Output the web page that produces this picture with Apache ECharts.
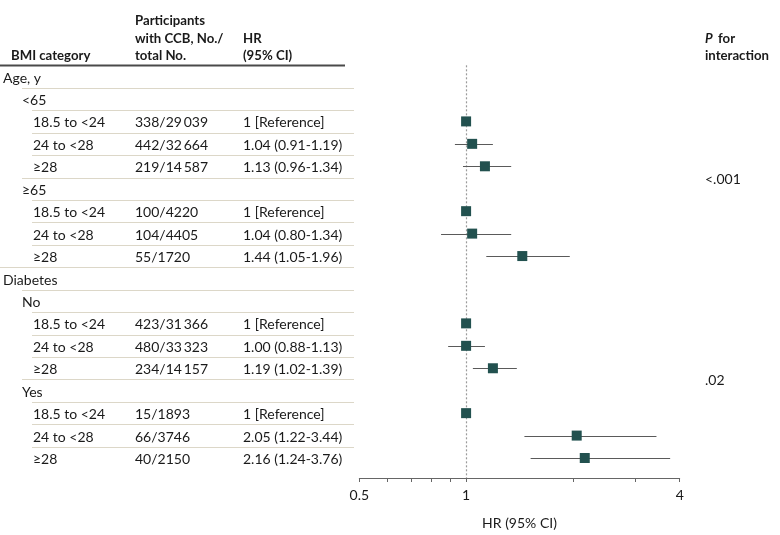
<!DOCTYPE html>
<html><head><meta charset="utf-8">
<script src="https://cdn.jsdelivr.net/npm/echarts@6/dist/echarts.min.js"></script>
<style>html,body{margin:0;padding:0;background:#fff}#c{width:780px;height:535px}</style>
</head><body><div id="c"></div>
<script>
// ---- data ----
const rowLabels = ['Age, y', '<65', '18.5 to <24', '24 to <28', '≥28', '≥65', '18.5 to <24', '24 to <28', '≥28',
  'Diabetes', 'No', '18.5 to <24', '24 to <28', '≥28', 'Yes', '18.5 to <24', '24 to <28', '≥28'];
const rowLevels = [0, 1, 2, 2, 2, 1, 2, 2, 2, 0, 1, 2, 2, 2, 1, 2, 2, 2];
const participants = ['', '', '338/29\u2009039', '442/32\u2009664', '219/14\u2009587', '', '100/4220', '104/4405', '55/1720',
  '', '', '423/31\u2009366', '480/33\u2009323', '234/14\u2009157', '', '15/1893', '66/3746', '40/2150'];
const hrLabels = ['', '', '1 [Reference]', '1.04 (0.91-1.19)', '1.13 (0.96-1.34)', '', '1 [Reference]', '1.04 (0.80-1.34)', '1.44 (1.05-1.96)',
  '', '', '1 [Reference]', '1.00 (0.88-1.13)', '1.19 (1.02-1.39)', '', '1 [Reference]', '2.05 (1.22-3.44)', '2.16 (1.24-3.76)'];
const hrValues = [null, null, 1, 1.04, 1.13, null, 1, 1.04, 1.44, null, null, 1, 1.00, 1.19, null, 1, 2.05, 2.16];
// whisker ends as drawn in the picture
const ciLower = [null, null, null, 0.93, 0.98, null, null, 0.85, 1.14, null, null, null, 0.89, 1.045, null, null, 1.46, 1.52];
const ciUpper = [null, null, null, 1.19, 1.34, null, null, 1.34, 1.96, null, null, null, 1.13, 1.39, null, null, 3.44, 3.76];
const pValues = ['<.001', '.02'];
const pRowSpans = [[1, 8], [10, 17]];
const xTickValues = [0.5, 0.6, 0.7, 0.8, 0.9, 1, 2, 3, 4];
const xLabelValues = [0.5, 1, 4];

// ---- style ----
const FONT = 'Lato, "Open Sans", sans-serif';
const FS = 14;
const HFS = 13.2;
const TXT = '#1a1a1a';
const indents = [3, 22, 33];
const lineStarts = [0, 22, 32];
const colPart = 135, colHR = 243, colP = 705, tableRight = 354;
const TY = 1.5; // text vertical nudge

const chart = echarts.init(document.getElementById('c'), null, {renderer: 'canvas'});

const tableData = rowLabels.map((l, i) => [1, i]);
const ciData = [];
ciLower.forEach((lo, i) => { if (lo != null) ciData.push([lo, ciUpper[i], i]); });
const pointData = [];
hrValues.forEach((v, i) => { if (v != null) pointData.push([v, i]); });
const pData = pRowSpans.map((s, k) => [1, (s[0] + s[1]) / 2, k]);

function txt(x, y, text, extra) {
  return {type: 'text', x, y: y + TY, style: Object.assign({text, fill: TXT, font: FS + 'px ' + FONT, verticalAlign: 'middle', align: 'left'}, extra || {})};
}
const HB = '700 ' + HFS + 'px ' + FONT;
function htxt(x, y, text, font) {
  return {type: 'text', x, y, style: {text, fill: TXT, font: font || HB, verticalAlign: 'middle'}};
}

const option = {
  animation: false,
  backgroundColor: '#fff',
  grid: {left: 359.3, right: 100.3, top: 65.3, bottom: 55, containLabel: false},
  xAxis: {
    type: 'log', logBase: 2, min: 0.5, max: 4,
    axisLine: {show: true, onZero: false, lineStyle: {color: '#666', width: 1}},
    axisTick: {show: true, length: 4, customValues: xTickValues, lineStyle: {color: '#666'}},
    axisLabel: {show: true, customValues: xLabelValues, color: TXT, fontFamily: FONT, fontSize: FS, margin: 10,
      formatter: v => String(+v.toFixed(2))},
    splitLine: {show: false},
    minorTick: {show: false},
    name: 'HR (95% CI)', nameLocation: 'middle', nameGap: 38,
    nameTextStyle: {color: TXT, fontFamily: FONT, fontSize: FS}
  },
  yAxis: {type: 'value', inverse: true, min: -0.5, max: 17.89, show: false},
  graphic: [
    {type: 'line', shape: {x1: 0, y1: 65.5, x2: 345, y2: 65.5}, style: {stroke: '#4a4a4a', lineWidth: 2}},
    htxt(11, 56, 'BMI category'),
    htxt(colPart, 21, 'Participants'),
    htxt(colPart, 38.5, 'with CCB, No./'),
    htxt(colPart, 56, 'total No.'),
    htxt(colHR, 38.5, 'HR'),
    htxt(colHR, 56, '(95% CI)'),
    htxt(colP, 38.5, 'P', 'italic 700 ' + HFS + 'px ' + FONT),
    htxt(colP + 13, 38.5, 'for'),
    htxt(colP, 56, 'interaction')
  ],
  series: [
    {
      type: 'custom', name: 'table', clip: false, silent: true, z: 1,
      encode: {x: 0, y: 1},
      data: tableData,
      renderItem: function (params, api) {
        const i = api.value(1);
        const y = api.coord([1, i])[1];
        const children = [
          txt(indents[rowLevels[i]], y, rowLabels[i]),
          txt(colPart, y, participants[i]),
          txt(colHR, y, hrLabels[i])
        ];
        if (i < rowLabels.length - 1) {
          const yl = Math.round(api.coord([1, i + 0.5])[1]) + 0.5;
          const ls = lineStarts[rowLevels[i + 1]];
          children.push({type: 'line', shape: {x1: ls, y1: yl, x2: tableRight, y2: yl}, style: {stroke: '#dcd7c8', lineWidth: 1}});
        }
        return {type: 'group', children};
      }
    },
    {
      type: 'custom', name: 'ci', clip: false, silent: true, z: 3,
      encode: {x: [0, 1], y: 2},
      data: ciData,
      renderItem: function (params, api) {
        const i = api.value(2);
        const p1 = api.coord([api.value(0), i]);
        const p2 = api.coord([api.value(1), i]);
        const y = Math.round(p1[1]) + 0.5;
        return {type: 'line', shape: {x1: p1[0], y1: y, x2: p2[0], y2: y}, style: {stroke: '#5a5a5a', lineWidth: 1}};
      }
    },
    {
      type: 'scatter', name: 'HR', z: 5,
      symbol: 'rect', symbolSize: 10,
      itemStyle: {color: '#22514f', opacity: 1},
      data: pointData,
      markLine: {
        silent: true, symbol: ['none', 'none'], z: 2,
        label: {show: false},
        lineStyle: {color: '#9a9a9a', type: [2, 2], width: 1.2},
        data: [{xAxis: 1}]
      }
    },
    {
      type: 'custom', name: 'p', clip: false, silent: true, z: 1,
      encode: {x: 0, y: 1},
      data: pData,
      renderItem: function (params, api) {
        const y = api.coord([1, api.value(1)])[1];
        return txt(colP, y, pValues[api.value(2)]);
      }
    }
  ]
};
chart.setOption(option);
</script>
</body></html>
